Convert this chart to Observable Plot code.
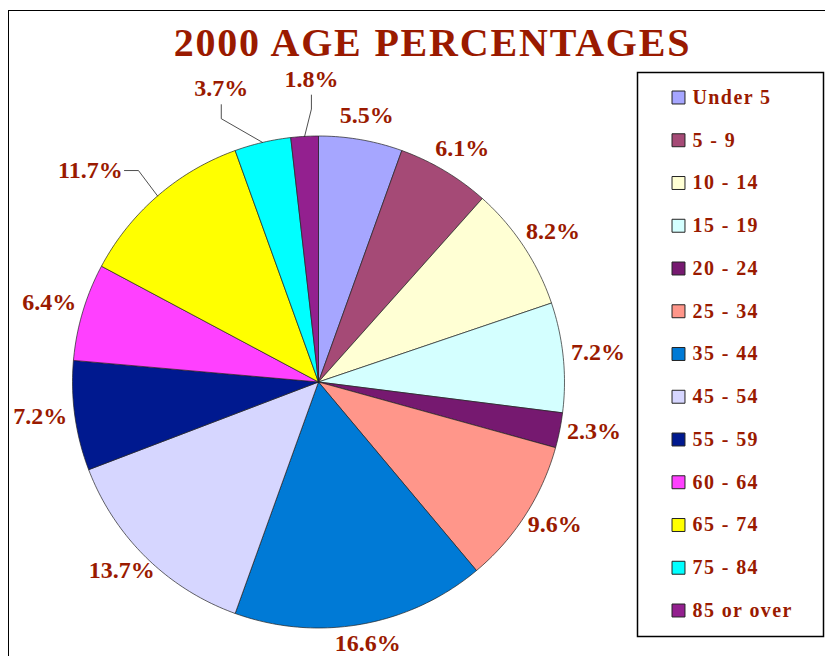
<!DOCTYPE html>
<html><head><meta charset="utf-8">
<script src="https://cdn.jsdelivr.net/npm/d3@7"></script>
<script src="https://cdn.jsdelivr.net/npm/@observablehq/plot@0.6"></script>
<style>
body{margin:0;background:#fff;}
#wrap{position:relative;width:825px;height:656px;overflow:hidden;background:#fff;}
#frame{position:absolute;left:8px;top:10px;width:900px;height:900px;border-left:1.5px solid #000;border-top:1.5px solid #000;}
#title{position:absolute;left:40px;width:785px;top:23px;text-align:center;font:bold 40px "Liberation Serif",serif;letter-spacing:1.8px;color:#9a1a00;line-height:40px;white-space:nowrap;}
#pie,#legend{position:absolute;}
#pie{left:0;top:0}
#legend{left:637px;top:72px}
svg{overflow:visible}
</style></head><body>
<div id="wrap"><div id="frame"></div><div id="pie"></div><div id="legend"></div><div id="title"></div></div>
<script>
const titleText = "2000 AGE PERCENTAGES";
const categories = ["Under 5","5 - 9","10 - 14","15 - 19","20 - 24","25 - 34","35 - 44","45 - 54","55 - 59","60 - 64","65 - 74","75 - 84","85 or over"];
const percents = [5.5,6.1,8.2,7.2,2.3,9.6,16.6,13.7,7.2,6.4,11.7,3.7,1.8];
const colors = ["#a6a6ff","#a54a76","#ffffd4","#d4ffff","#761970","#ff968a","#007ad6","#d6d6ff","#00198f","#ff40ff","#ffff00","#00ffff","#93208f"];

const textColor = "#9a1a00";
const font = "'Liberation Serif', 'Times New Roman', serif";
document.getElementById("title").textContent = titleText;

// layout
const W = 825, H = 656, cx = 318, cy = 381.5, R = 246, LRx = 281, LRy = 268, labelLift = 3;
// labels moved out with leader lines: index -> [radius, angle shift (deg), leader kind]
const moved = {10: [311, -6.3, "h"], 11: [309, -5.2, "v"], 12: [303, 1.9, "v"]};

const data = categories.map((c, i) => ({cat: c, value: percents[i]}));
const arcs = d3.pie().sort(null).value(d => d.value)(data);

const pt = (a, r, ry = r) => ({x: cx + r * Math.sin(a), y: cy - ry * Math.cos(a)});

const polys = [];
arcs.forEach(a => {
  const n = Math.max(2, Math.ceil((a.endAngle - a.startAngle) / (Math.PI / 180)));
  polys.push({cat: a.data.cat, ...pt(0, 0)});
  for (let k = 0; k <= n; k++) {
    const ang = a.startAngle + (a.endAngle - a.startAngle) * k / n;
    polys.push({cat: a.data.cat, ...pt(ang, R)});
  }
  polys.push({cat: a.data.cat, ...pt(0, 0)});
});

const labels = [];
const leaders = [];
arcs.forEach((a, i) => {
  const mid = (a.startAngle + a.endAngle) / 2;
  let p;
  if (moved[i]) {
    const [r, da, kind] = moved[i];
    p = pt(mid + da * Math.PI / 180, r);
    const edge = pt(mid, R);
    let elbow, end;
    if (kind === "h") { end = {x: p.x + 34, y: p.y}; elbow = {x: p.x + 48, y: p.y}; }
    else { end = {x: p.x, y: p.y + 16}; elbow = {x: p.x, y: p.y + 30}; }
    [edge, elbow, end].forEach(q => leaders.push({id: i, ...q}));
  } else {
    p = pt(mid, LRx, LRy);
    p.y -= labelLift;
  }
  labels.push({text: a.data.value.toFixed(1) + "%", ...p});
});

const piePlot = Plot.plot({
  width: W, height: H, margin: 0,
  style: {background: "transparent", overflow: "visible"},
  x: {domain: [0, W], range: [0, W], axis: null},
  y: {domain: [0, H], range: [0, H], axis: null},
  color: {domain: categories, range: colors},
  marks: [
    Plot.line(polys, {x: "x", y: "y", z: "cat", fill: "cat", stroke: "#222", strokeWidth: 0.7, strokeLinejoin: "round"}),
    Plot.line(leaders, {x: "x", y: "y", z: "id", stroke: "#222", strokeWidth: 0.8}),
    Plot.text(labels, {x: "x", y: "y", text: "text", fill: textColor, fontFamily: font, fontWeight: "bold", fontSize: 24})
  ]
});
document.getElementById("pie").appendChild(piePlot);

const legendPlot = Plot.plot({
  width: 186, height: 564, margin: 0,
  style: {background: "#fff", overflow: "visible"},
  y: {type: "linear", domain: [0, categories.length - 1], range: [25, 538], axis: null},
  color: {domain: categories, range: colors},
  marks: [
    Plot.frame({stroke: "#000", strokeWidth: 1.5}),
    Plot.dot(categories, {y: (d, i) => i, fill: d => d, frameAnchor: "left", dx: 41, symbol: "square", r: 7.3, stroke: "#222", strokeWidth: 1}),
    Plot.text(categories, {y: (d, i) => i, text: d => d, frameAnchor: "left", dx: 55, textAnchor: "start", fill: textColor, fontFamily: font, fontWeight: "bold", fontSize: 20})
  ]
});
legendPlot.querySelectorAll("text").forEach(t => t.style.letterSpacing = "1.4px");
document.getElementById("legend").appendChild(legendPlot);
</script>
</body></html>
